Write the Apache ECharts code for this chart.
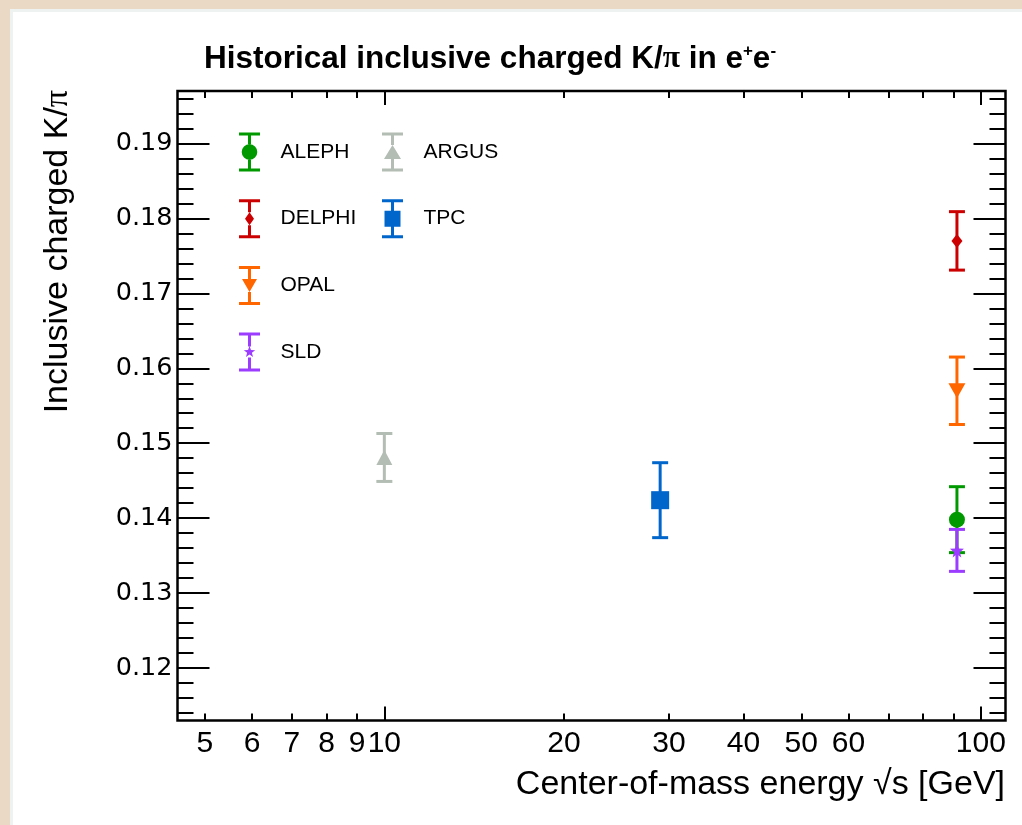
<!DOCTYPE html>
<html><head><meta charset="utf-8">
<script src="https://cdn.jsdelivr.net/npm/echarts@6/dist/echarts.min.js"></script>
<style>
html,body{margin:0;padding:0;width:1022px;height:825px;overflow:hidden;background:#ead9c4;}
#panel{position:absolute;left:10px;top:9px;width:1020px;height:820px;background:#fff;border-left:3px solid #eef2f1;border-top:3px solid #eef2f1;box-sizing:border-box;}
#chart{position:absolute;left:0;top:0;width:1022px;height:825px;}
</style></head><body><div id="panel"></div><div id="chart"></div>
<script>
// ---------------- data ----------------
const experiments = ['ALEPH', 'DELPHI', 'OPAL', 'SLD', 'ARGUS', 'TPC'];
const energies    = [91.2, 91.2, 91.2, 91.2, 10.0, 29.0];
const ratios      = [0.1398, 0.1770, 0.1570, 0.1357, 0.1481, 0.1424];
const errors      = [0.0044, 0.0039, 0.0045, 0.0028, 0.0032, 0.0050];
const colors      = ['#009a00', '#cc0000', '#ff6600', '#9b3cff', '#b3bdb4', '#0066cc'];
const legendCol1  = ['ALEPH', 'DELPHI', 'OPAL', 'SLD'];
const legendCol2  = ['ARGUS', 'TPC'];
const yMajorTicks = [0.12, 0.13, 0.14, 0.15, 0.16, 0.17, 0.18, 0.19];
const yMinorStep  = 0.002;
const xLabelTicks = [5, 6, 7, 8, 9, 10, 20, 30, 40, 50, 60, 100];
const xMajorTicks = [10, 100];
const xMinorTicks = [5, 6, 7, 8, 9, 20, 30, 40, 50, 60, 70, 80, 90];
const X_MIN = 4.5, X_MAX = 110;
const Y_MIN = 0.113, Y_MAX = 0.197;

// ---------------- shapes ----------------
function starPath(cx, cy, ro, ri) {
  let d = '';
  for (let k = 0; k < 10; k++) {
    const a = -Math.PI / 2 + k * Math.PI / 5;
    const r = k % 2 ? ri : ro;
    d += (k ? 'L' : 'M') + (cx + r * Math.cos(a)).toFixed(2) + ' ' + (cy + r * Math.sin(a)).toFixed(2) + ' ';
  }
  return d + 'Z';
}
const markerDefs = {
  ALEPH:  {symbol: 'circle', size: 16,
           icon: 'M2.7 19.5A7.8 7.8 0 1 1 18.3 19.5A7.8 7.8 0 1 1 2.7 19.5Z', t: 11.7, b: 27.3},
  DELPHI: {symbol: 'diamond', size: [11, 14],
           icon: 'M10.5 13L15 19.5L10.5 26L6 19.5Z', t: 13, b: 26},
  OPAL:   {symbol: 'path://M0 0L2 0L1 2Z', size: [17, 15],
           icon: 'M3 13L18 13L10.5 26Z', t: 13, b: 26},
  SLD:    {symbol: 'path://' + starPath(10, 10, 10, 4.2), size: 14,
           icon: starPath(10.5, 19.5, 6, 2.5), t: 14, b: 25},
  ARGUS:  {symbol: 'triangle', size: [16, 15],
           icon: 'M10.5 12.5L19 26.5L2 26.5Z', t: 12.5, b: 26.5},
  TPC:    {symbol: 'rect', size: 18,
           icon: 'M2.5 11.5H18.5V27.5H2.5Z', t: 11.5, b: 27.5}
};
function legendIcon(name) {
  const m = markerDefs[name];
  return 'path://M0 0H21V3H0Z M0 36H21V39H0Z M9 3H12V' + m.t + 'H9Z M9 ' + m.b + 'H12V36H9Z ' + m.icon;
}

// ---------------- axes ----------------
const yMinorTicks = [];
for (let v = 0.114; v <= Y_MAX + 1e-9; v += yMinorStep) yMinorTicks.push(Math.round(v * 1000) / 1000);

const FONT = 'Liberation Sans';
function xAxisDef(position, ticks, len, labels) {
  return {
    type: 'log', logBase: 10, min: X_MIN, max: X_MAX, position: position, gridIndex: 0,
    splitLine: {show: false}, axisLine: {show: false, onZero: false},
    axisTick: {show: true, inside: true, length: len, customValues: ticks,
               lineStyle: {color: '#000', width: 2}},
    axisLabel: labels ? {show: true, customValues: labels, margin: 8, color: '#000',
               fontFamily: FONT, fontSize: 30, formatter: v => String(Math.round(v))}
             : {show: false}
  };
}
function yAxisDef(position, ticks, len, labels) {
  return {
    type: 'value', min: Y_MIN, max: Y_MAX, position: position, gridIndex: 0,
    splitLine: {show: false}, axisLine: {show: false, onZero: false},
    axisTick: {show: true, inside: true, length: len, customValues: ticks,
               lineStyle: {color: '#000', width: 2}},
    axisLabel: labels ? {show: true, customValues: labels, margin: 5, color: '#000',
               fontFamily: 'DejaVu Sans', fontSize: 25.5, padding: [3, 0, 0, 0],
               formatter: v => v.toFixed(2)}
             : {show: false}
  };
}

// ---------------- series ----------------
const series = [];
experiments.forEach((name, i) => {
  series.push({
    name: name + ' err', type: 'custom', xAxisIndex: 0, yAxisIndex: 0, z: 2,
    itemStyle: {color: colors[i]},
    data: [[energies[i], ratios[i], errors[i]]],
    renderItem: function (params, api) {
      const x = api.value(0), y = api.value(1), e = api.value(2);
      const top = api.coord([x, y + e]), bot = api.coord([x, y - e]);
      const hw = 8;
      const style = {stroke: colors[i], lineWidth: 3, fill: null};
      return {type: 'group', children: [
        {type: 'line', shape: {x1: top[0], y1: top[1], x2: bot[0], y2: bot[1]}, style: style},
        {type: 'line', shape: {x1: top[0] - hw, y1: top[1], x2: top[0] + hw, y2: top[1]}, style: style},
        {type: 'line', shape: {x1: bot[0] - hw, y1: bot[1], x2: bot[0] + hw, y2: bot[1]}, style: style}
      ]};
    }
  });
});
experiments.forEach((name, i) => {
  const m = markerDefs[name];
  series.push({
    name: name, type: 'scatter', xAxisIndex: 0, yAxisIndex: 0, z: 3,
    symbol: m.symbol, symbolSize: m.size,
    itemStyle: {color: colors[i], opacity: 1},
    emphasis: {disabled: true},
    data: [[energies[i], ratios[i]]]
  });
});

function legendDef(names, left) {
  return {
    orient: 'vertical', left: left, top: 132.5, padding: 0,
    itemWidth: 52, itemHeight: 39, itemGap: 27.7, symbolKeepAspect: true,
    selectedMode: false,
    textStyle: {fontFamily: FONT, fontSize: 21, color: '#000'},
    data: names.map(n => ({name: n, icon: legendIcon(n)}))
  };
}

const chart = echarts.init(document.getElementById('chart'), null, {renderer: 'canvas'});
chart.setOption({
  animation: false,
  backgroundColor: 'transparent',
  title: {
    text: '{a|Historical inclusive charged K/}{p|π}{a| in e}{s|+}{a|e}{s|-}',
    left: 204, top: 43, padding: 0,
    textStyle: {rich: {
      a: {fontFamily: FONT, fontWeight: 'bold', fontSize: 31.5, color: '#000', lineHeight: 32},
      p: {fontFamily: 'Liberation Serif', fontSize: 31.5, color: '#000', lineHeight: 32},
      s: {fontFamily: FONT, fontWeight: 'bold', fontSize: 17, color: '#000', verticalAlign: 'top', lineHeight: 32}
    }}
  },
  grid: {left: 177.5, top: 91, width: 828, height: 629.5, show: true,
         borderColor: '#000', borderWidth: 2.5, backgroundColor: 'transparent', containLabel: false},
  xAxis: [
    xAxisDef('bottom', xMajorTicks, 14, xLabelTicks),
    xAxisDef('bottom', xMinorTicks, 7, null),
    xAxisDef('top', xMajorTicks, 14, null),
    xAxisDef('top', xMinorTicks, 7, null)
  ],
  yAxis: [
    yAxisDef('left', yMajorTicks, 32, yMajorTicks),
    yAxisDef('left', yMinorTicks, 16, null),
    yAxisDef('right', yMajorTicks, 32, null),
    yAxisDef('right', yMinorTicks, 16, null)
  ],
  legend: [legendDef(legendCol1, 239), legendDef(legendCol2, 382)],
  graphic: [
    {type: 'text', x: 58, y: 90, rotation: Math.PI / 2,
     style: {text: '{a|Inclusive charged K/}{p|π}', align: 'right', verticalAlign: 'middle',
             rich: {a: {fontFamily: FONT, fontSize: 34, fill: '#000'},
                    p: {fontFamily: 'Liberation Serif', fontSize: 34, fill: '#000'}}}},
    {type: 'text', x: 1005, y: 785,
     style: {text: 'Center-of-mass energy √s [GeV]', align: 'right', verticalAlign: 'middle',
             fontFamily: FONT, fontSize: 34, fill: '#000'}}
  ],
  series: series
});
</script></body></html>
